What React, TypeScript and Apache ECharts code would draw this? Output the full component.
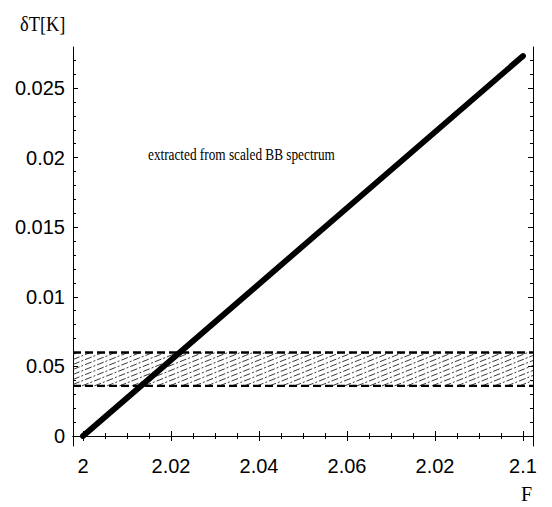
import React, { useEffect, useRef } from "react";
import * as echarts from "echarts";

// Axis ranges (frame extends slightly beyond data range)
const X_MIN = 1.99773;
const X_MAX = 2.10227;
const Y_MIN = -0.000718;
const Y_MAX = 0.027945;

// Tick values and labels (labels as printed in the original figure)
const X_TICKS = [2, 2.02, 2.04, 2.06, 2.08, 2.1];
const X_LABELS = ["2", "2.02", "2.04", "2.06", "2.02", "2.1"];
const X_MINOR = [2.005, 2.01, 2.015, 2.025, 2.03, 2.035, 2.045, 2.05, 2.055, 2.065, 2.07, 2.075, 2.085, 2.09, 2.095];
const Y_TICKS = [0, 0.005, 0.01, 0.015, 0.02, 0.025];
const Y_LABELS = ["0", "0.05", "0.01", "0.015", "0.02", "0.025"];
const Y_MINOR = [0.001, 0.002, 0.003, 0.004, 0.006, 0.007, 0.008, 0.009, 0.011, 0.012, 0.013, 0.014, 0.016, 0.017, 0.018, 0.019, 0.021, 0.022, 0.023, 0.024, 0.026, 0.027];

// Main curve: δT vs F
const CURVE_F = [2, 2.1];
const CURVE_DT = [0, 0.0273];

// Measured band
const BAND_LOW = 0.0036;
const BAND_HIGH = 0.006;

const labelFor = (ticks: number[], labels: string[]) => (v: number) => {
  let best = 0;
  for (let i = 0; i < ticks.length; i++) {
    if (Math.abs(ticks[i] - v) < Math.abs(ticks[best] - v)) best = i;
  }
  return labels[best];
};

export default function App() {
  const ref = useRef<HTMLDivElement>(null);
  useEffect(() => {
    if (!ref.current) return;
    const chart = echarts.init(ref.current, null, { renderer: "svg" });
    const axisLine = { show: true, lineStyle: { color: "#000", width: 1 } };
    const mkX = (position: string, ticks: number[], len: number, labels: boolean, line: boolean) => ({
      type: "value",
      position,
      offset: 0,
      min: X_MIN,
      max: X_MAX,
      axisLine: line ? axisLine : { show: false },
      splitLine: { show: false },
      axisTick: { show: true, inside: true, length: len, customValues: ticks, lineStyle: { color: "#000", width: 1 } },
      axisLabel: labels
        ? {
            show: true,
            customValues: X_TICKS,
            formatter: labelFor(X_TICKS, X_LABELS),
            fontFamily: "Liberation Sans",
            fontSize: 20,
            color: "#000",
            margin: 10,
          }
        : { show: false },
    });
    const mkY = (position: string, ticks: number[], len: number, labels: boolean, line: boolean) => ({
      type: "value",
      position,
      offset: 0,
      min: Y_MIN,
      max: Y_MAX,
      axisLine: line ? axisLine : { show: false },
      splitLine: { show: false },
      axisTick: { show: true, inside: true, length: len, customValues: ticks, lineStyle: { color: "#000", width: 1 } },
      axisLabel: labels
        ? {
            show: true,
            customValues: Y_TICKS,
            formatter: labelFor(Y_TICKS, Y_LABELS),
            fontFamily: "Liberation Sans",
            fontSize: 20,
            color: "#000",
            margin: 8,
          }
        : { show: false },
    });

    const bandData = [[X_MIN, BAND_LOW, X_MAX, BAND_HIGH]];

    chart.setOption({
      animation: false,
      backgroundColor: "#fff",
      grid: { left: 73, right: 19, top: 47, bottom: 61, containLabel: false },
      xAxis: [
        mkX("bottom", X_TICKS, 5, true, true),
        mkX("bottom", X_MINOR, 3, false, false),
        mkX("top", X_TICKS, 5, false, true),
        mkX("top", X_MINOR, 3, false, false),
      ],
      yAxis: [
        mkY("left", Y_TICKS, 5, true, true),
        mkY("left", Y_MINOR, 3, false, false),
        mkY("right", Y_TICKS, 5, false, true),
        mkY("right", Y_MINOR, 3, false, false),
      ],
      series: [
        {
          type: "custom",
          xAxisIndex: 0,
          yAxisIndex: 0,
          silent: true,
          clip: false,
          data: bandData,
          renderItem: (params: any, api: any) => {
            const tl = api.coord([api.value(0), api.value(3)]);
            const br = api.coord([api.value(2), api.value(1)]);
            const L = tl[0], T = tl[1], R = br[0], B = br[1];
            const s = 0.4;
            const step = 5;
            const children: any[] = [];
            for (let c = T + 2; c < B + s * (R - L); c += step) {
              const xa = Math.max(L, L + (c - B) / s);
              const xb = Math.min(R, L + (c - T) / s);
              if (xb - xa < 1) continue;
              children.push({
                type: "line",
                shape: { x1: xa, y1: c - s * (xa - L), x2: xb, y2: c - s * (xb - L) },
                style: { stroke: "#222", lineWidth: 0.9, lineDash: [7, 2, 2, 2] },
              });
            }
            return { type: "group", children };
          },
        },
        {
          type: "line",
          xAxisIndex: 0,
          yAxisIndex: 0,
          data: [[X_MIN, BAND_HIGH], [X_MAX, BAND_HIGH]],
          symbol: "none",
          clip: false,
          silent: true,
          lineStyle: { color: "#000", width: 2.3, type: [8, 4] },
        },
        {
          type: "line",
          xAxisIndex: 0,
          yAxisIndex: 0,
          data: [[X_MIN, BAND_LOW], [X_MAX, BAND_LOW]],
          symbol: "none",
          clip: false,
          silent: true,
          lineStyle: { color: "#000", width: 2.3, type: [8, 4] },
        },
        {
          type: "line",
          xAxisIndex: 0,
          yAxisIndex: 0,
          data: CURVE_F.map((f, i) => [f, CURVE_DT[i]]),
          symbol: "none",
          clip: false,
          silent: true,
          lineStyle: { color: "#000", width: 5.8, cap: "round" },
        },
      ],
      graphic: [
        {
          type: "text",
          x: 20,
          y: 14,
          scaleX: 0.92,
          style: { text: "δT[K]", font: '20px "Liberation Serif"', fill: "#000" },
        },
        {
          type: "text",
          x: 521,
          y: 484,
          style: { text: "F", font: '20px "Liberation Serif"', fill: "#000" },
        },
        {
          type: "text",
          x: 148,
          y: 145,
          scaleX: 0.78,
          style: { text: "extracted from scaled BB spectrum", font: '17px "Liberation Serif"', fill: "#000" },
        },
      ],
    });
    return () => chart.dispose();
  }, []);
  return <div ref={ref} style={{ position: "fixed", left: 0, top: 0, width: 552, height: 507 }} />;
}
